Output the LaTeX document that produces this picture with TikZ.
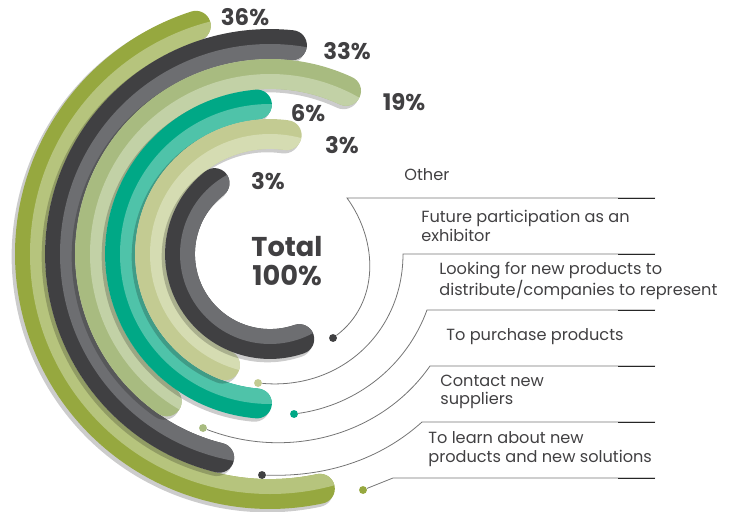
\documentclass[tikz,border=0pt]{standalone}
\usepackage{fontspec}
\setmainfont{Poppins}

\definecolor{olivedk}{HTML}{96A83F}
\definecolor{olivelt}{HTML}{B6C47D}
\definecolor{graydk}{HTML}{404042}
\definecolor{graylt}{HTML}{6D6E71}
\definecolor{sagedk}{HTML}{A8BB80}
\definecolor{sagelt}{HTML}{C2D1A6}
\definecolor{tealdk}{HTML}{00A886}
\definecolor{teallt}{HTML}{4FC3A9}
\definecolor{khakidk}{HTML}{C3CB92}
\definecolor{khakilt}{HTML}{D5DCB2}
\definecolor{txt}{HTML}{414042}

\begin{document}
\begin{tikzpicture}[x=0.02cm, y=0.02cm,
    band/.style={line width=17pt, line cap=round},
    bandshadow/.style={line width=18pt, line cap=round, black, opacity=0.2},
    pct/.style={font=\bfseries\fontsize{13}{15}\selectfont, text=txt},
    lbl/.style={font=\fontsize{9.2}{10.5}\selectfont, text=txt, align=left, anchor=west, inner sep=0pt},
    link/.style={black!55, line width=0.45pt},
    linkend/.style={black!85, line width=0.45pt},
    dot/.style={circle, inner sep=0pt, minimum size=4.5pt}]
   \useasboundingbox (0,0) rectangle (733,511);
   \coordinate (C) at (270,257);

   % percentages (behind the rings)
   \node[pct] (p36) at (245,494) {36\%};
   \node[pct] (p33) at (347,460) {33\%};
   \node[pct] (p19) at (404,409) {19\%};
   \node[pct] (p6) at (308,398) {6\%};
   \node[pct] (p3a) at (342,366) {3\%};
   \node[pct] (p3b) at (268,330) {3\%};

   % rings, outside in
   \foreach \r/\a/\b/\co/\ci in {240/108/282/olivedk/olivelt, 210/84/256/graydk/graylt,
       180/65/235/sagedk/sagelt, 150/95/265/tealdk/teallt,
       120/82/248/khakidk/khakilt, 90/128/289/graydk/graylt}{
     \draw[bandshadow] (C) ++(\a:\r) ++(-2.5,-2.5) arc[start angle=\a, end angle=\b, radius=\r];
     \draw[band, color=\co] (C) ++(\a:\r) arc[start angle=\a, end angle=\b, radius=\r];
     \begin{scope}
       \clip (C) circle[radius=\r];
       \draw[band, color=\ci] (C) ++(\a:\r) arc[start angle=\a, end angle=\b, radius=\r];
     \end{scope}
   }

   \node[font=\bfseries\fontsize{15.5}{16.5}\selectfont, text=txt, align=center] (total) at (287,250) {Total\\100\%};

   % dots at the ring ends
   \node[dot, fill=graydk] (d1) at (333,173) {};
   \node[dot, fill=khakidk] (d2) at (258,128) {};
   \node[dot, fill=tealdk] (d3) at (294,97) {};
   \node[dot, fill=sagedk] (d4) at (203,83) {};
   \node[dot, fill=graydk] (d5) at (262,36) {};
   \node[dot, fill=olivedk] (d6) at (363,21) {};

   % rules under the labels
   \foreach \i/\x/\y in {1/347/313, 2/403/257, 3/427/201, 4/430/145, 5/422/89, 6/393/33}{
     \coordinate (l\i) at (\x,\y);
     \coordinate (m\i) at (618,\y);
     \coordinate (r\i) at (655,\y);
   }
   \foreach \i/\o/\n/\l in {1/37/-54/1, 2/-5/-90/1.05, 3/8/-110/0.92, 4/-21/235/0.95, 5/-2/222/0.9}{
     \draw[link] (d\i) to[out=\o, in=\n, looseness=\l] (l\i) -- (r\i);
   }
   \draw[link] (d6) -- (l6) -- (r6);
   \foreach \i in {1,...,6}{
     \draw[linkend] (m\i) -- (r\i);
   }

   \node[lbl] (other) at (404,336) {Other};
   \node[lbl] (lab1) at (421,285) {Future participation as an\\exhibitor};
   \node[lbl] (lab2) at (439,230) {Looking for new products to\\distribute/companies to represent};
   \node[lbl] (lab3) at (446,174) {To purchase products};
   \node[lbl] (lab4) at (440,119) {Contact new\\suppliers};
   \node[lbl] (lab5) at (428,62) {To learn about new\\products and new solutions};
\end{tikzpicture}
\end{document}
